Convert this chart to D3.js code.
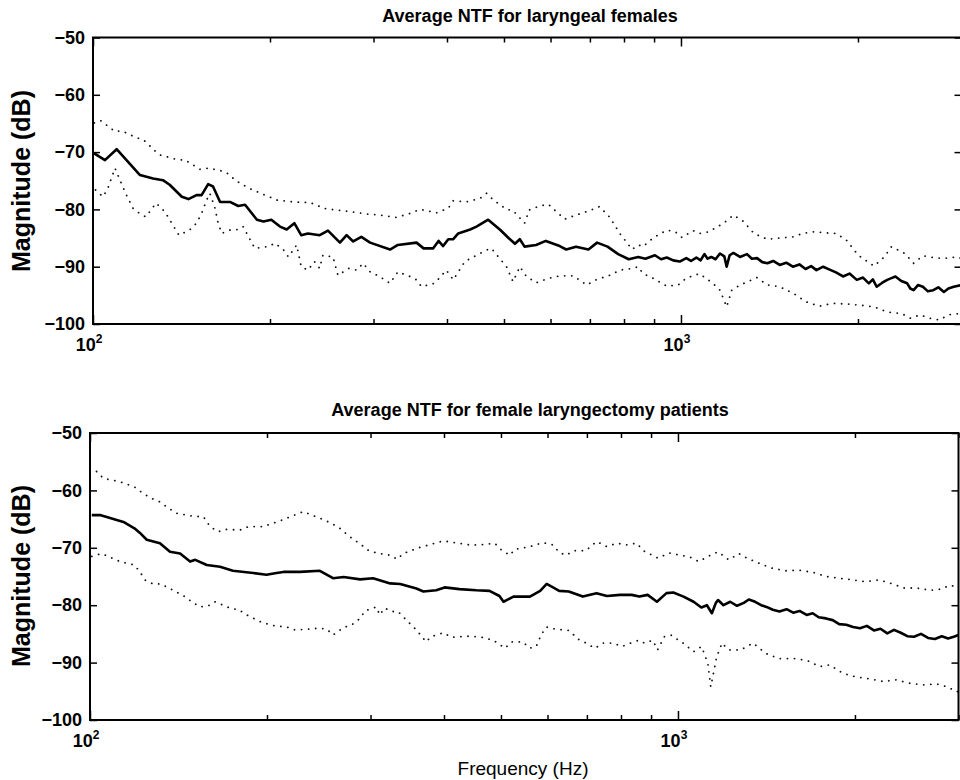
<!DOCTYPE html>
<html>
<head>
<meta charset="utf-8">
<script src="https://cdn.jsdelivr.net/npm/d3@7"></script>
<style>
body { margin: 0; background: #fff; }
text { font-family: "Liberation Sans", Arial, Helvetica, sans-serif; }
</style>
</head>
<body>
<svg id="chart" width="960" height="780"></svg>
<script>
// values: [frequency Hz, magnitude dB]

var titles = ["Average NTF for laryngeal females", "Average NTF for female laryngectomy patients"];
var yTicks = [-100, -90, -80, -70, -60, -50];
var xMajor = [100, 1000];
var xMinor = [200, 300, 400, 500, 600, 700, 800, 900, 2000, 3000];

var topMean = [[100,-70.1],[104.8,-71.4],[109.7,-69.5],[120.2,-74.0],[126.5,-74.6],[131.5,-74.9],[135,-75.7],
  [141.6,-77.8],[145.3,-78.2],[150,-77.5],[153,-77.5],[157,-75.6],[160,-76.0],[164.5,-78.7],[171,-78.7],
  [176.6,-79.4],[181.4,-79.2],[190,-81.8],[195,-82.1],[201,-81.8],[208,-83.0],[213.5,-83.5],[220,-82.4],
  [226,-84.5],[232,-84.2],[243,-84.5],[251,-83.7],[263,-85.8],[270,-84.5],[277,-85.6],[286,-84.8],[296,-85.8],
  [320,-87.0],[330,-86.2],[355,-85.8],[365,-86.8],[379,-86.8],[387,-85.5],[394,-86.4],[402,-85.2],[410,-85.2],
  [418,-84.2],[438,-83.5],[449,-83.0],[470,-81.8],[493,-83.6],[509,-85.0],[522,-86.0],[532,-85.2],[542,-86.5],
  [567,-86.2],[589,-85.5],[622,-86.4],[638,-87.0],[663,-86.5],[696,-87.0],[720,-85.8],[750,-86.5],[782,-87.8],
  [815,-88.7],[846,-88.3],[870,-88.6],[903,-88.0],[925,-88.7],[946,-88.4],[970,-88.9],[995,-89.1],[1021,-88.5],
  [1040,-89.0],[1062,-88.4],[1080,-88.9],[1096,-87.8],[1110,-88.6],[1126,-88.3],[1145,-88.7],[1165,-87.7],
  [1185,-88.2],[1196,-90.0],[1210,-88.0],[1228,-87.6],[1260,-88.3],[1295,-87.8],[1320,-88.6],[1347,-88.5],
  [1375,-89.2],[1403,-89.4],[1435,-89.0],[1472,-89.7],[1510,-89.3],[1550,-90.0],[1590,-89.6],[1629,-90.4],
  [1665,-89.9],[1700,-90.6],[1745,-90.0],[1790,-90.5],[1835,-91.0],[1886,-91.7],[1935,-91.2],[1991,-92.3],
  [2040,-91.9],[2087,-92.9],[2120,-92.2],[2152,-93.5],[2200,-92.8],[2243,-92.3],[2280,-92.0],[2316,-91.7],
  [2370,-92.5],[2425,-92.9],[2455,-93.8],[2487,-94.1],[2530,-93.2],[2579,-93.5],[2630,-94.3],[2686,-94.1],
  [2740,-93.6],[2800,-94.4],[2850,-93.8],[2910,-93.5],[3000,-93.2]];

var topUpper = [[100.5,-64.9],[103,-64.5],[109,-66.4],[112,-66.3],[118,-67.4],[122,-67.9],[127.5,-69.8],
  [130,-70.5],[139,-71.3],[143.5,-71.4],[152,-73.0],[157,-72.8],[164.5,-73.2],[170,-73.8],[174.5,-74.9],
  [184,-76.3],[195,-77.4],[206,-78.4],[219,-78.7],[234,-78.8],[243,-79.5],[246,-79.8],[259,-80.1],[274,-80.4],
  [292,-80.8],[307,-81.0],[328,-81.4],[346,-80.7],[360,-80.0],[384,-80.6],[402,-79.8],[410,-78.5],[431,-78.7],
  [455,-78.1],[467,-77.2],[479,-78.3],[505,-80.0],[518,-80.2],[542,-82.4],[552,-80.1],[575,-79.4],[595,-79.1],
  [614,-80.4],[634,-81.7],[663,-81.0],[700,-80.2],[727,-79.5],[757,-81.4],[787,-84.2],[826,-87.0],[846,-86.2],
  [862,-86.5],[896,-85.0],[946,-83.6],[978,-83.9],[1004,-84.9],[1049,-83.7],[1075,-84.2],[1116,-83.9],
  [1182,-82.4],[1228,-81.0],[1277,-82.1],[1331,-84.2],[1402,-85.2],[1472,-85.0],[1550,-84.8],[1610,-84.2],
  [1673,-83.9],[1764,-84.1],[1835,-84.2],[1909,-85.3],[2003,-88.0],[2129,-89.9],[2217,-88.3],[2281,-86.5],
  [2403,-87.7],[2487,-89.4],[2579,-88.1],[2720,-88.5],[2825,-88.5],[2956,-88.3],[3000,-88.6]];

var topLower = [[101,-76.6],[104,-77.8],[106,-76.3],[109,-72.8],[112,-75.7],[114,-77.5],[117,-79.8],[120,-80.7],
  [123,-81.3],[128,-78.9],[132.5,-80.4],[135,-81.8],[140,-84.5],[146,-83.6],[150,-82.4],[153,-80.7],[156,-78.4],
  [158,-77.2],[161,-79.5],[163,-82.1],[165.5,-84.2],[171,-83.6],[177,-83.5],[180,-83.0],[188.5,-86.8],
  [198.5,-86.5],[204,-85.9],[211,-87.1],[215,-88.3],[222,-86.2],[226,-90.0],[232,-90.6],[238,-89.1],[243,-90.3],
  [246,-88.0],[256,-88.3],[261,-91.5],[272,-90.3],[281,-90.6],[288,-89.4],[296,-90.9],[307,-91.7],[320,-92.9],
  [330,-90.9],[346,-91.7],[355,-92.3],[362,-93.5],[381,-92.9],[399,-90.6],[410,-92.3],[429,-89.1],[449,-88.0],
  [467,-87.1],[476,-86.8],[505,-90.0],[518,-92.6],[532,-90.0],[546,-91.7],[567,-92.8],[597,-92.0],[622,-91.6],
  [656,-91.6],[691,-93.2],[720,-92.2],[757,-91.5],[787,-90.6],[826,-90.3],[846,-90.0],[862,-91.2],[896,-92.0],
  [946,-93.4],[989,-93.2],[1021,-92.0],[1075,-91.2],[1133,-92.9],[1165,-94.1],[1196,-97.0],[1220,-94.1],
  [1260,-93.2],[1347,-91.9],[1403,-93.2],[1472,-93.5],[1550,-94.6],[1629,-96.1],[1720,-96.9],[1810,-96.4],
  [1909,-96.5],[2010,-96.7],[2129,-97.0],[2243,-97.9],[2375,-98.2],[2458,-99.0],[2550,-98.4],[2650,-99.0],
  [2750,-99.3],[2855,-98.4],[2965,-98.2],[3000,-98.6]];

var botMean = [[100.7,-64.3],[104,-64.3],[109.6,-65.0],[114,-65.5],[119,-66.6],[121.6,-67.4],[124.9,-68.6],
  [131.5,-69.2],[136.8,-70.7],[142.3,-71.0],[148,-72.4],[151,-72.1],[158,-73.0],[166.4,-73.3],[175,-74.0],
  [189.5,-74.4],[199.6,-74.7],[207.6,-74.4],[213.3,-74.2],[227.6,-74.2],[246,-74.0],[259,-75.3],[270,-75.1],
  [288,-75.5],[303,-75.3],[324,-76.2],[337,-76.3],[359,-77.1],[369,-77.6],[388,-77.4],[401,-76.9],[425,-77.2],
  [454,-77.4],[478,-77.5],[497,-78.4],[505,-79.4],[525,-78.5],[560,-78.5],[583,-77.5],[598,-76.3],[613,-76.9],
  [628,-77.5],[652,-77.6],[689,-78.5],[727,-77.9],[757,-78.4],[797,-78.2],[834,-78.2],[860,-78.5],[888,-78.2],
  [921,-79.4],[956,-77.9],[982,-77.8],[1022,-78.5],[1063,-79.4],[1096,-80.4],[1120,-80.0],[1142,-81.4],
  [1160,-79.6],[1170,-79.1],[1195,-80.0],[1227,-79.4],[1260,-80.1],[1294,-79.6],[1320,-79.0],[1353,-79.4],
  [1385,-80.0],[1414,-80.3],[1450,-80.8],[1488,-81.1],[1530,-80.7],[1570,-81.3],[1610,-81.0],[1655,-81.7],
  [1695,-81.4],[1735,-82.1],[1785,-82.3],[1833,-82.6],[1880,-83.3],[1933,-83.4],[1985,-83.8],[2040,-84.0],
  [2095,-83.6],[2154,-84.4],[2210,-84.1],[2270,-84.9],[2330,-84.3],[2393,-84.8],[2455,-85.4],[2520,-85.5],
  [2590,-85.0],[2663,-85.7],[2735,-85.9],[2810,-85.4],[2880,-85.8],[2945,-85.5],[3000,-85.2]];

var botUpper = [[102.6,-56.7],[105.4,-57.9],[108.9,-58.2],[112.5,-58.5],[119,-59.4],[123,-60.5],[127.3,-61.4],
  [131.5,-62.0],[136,-63.1],[140.4,-64.0],[150,-64.5],[156,-64.6],[160,-66.3],[165,-67.2],[170.7,-66.8],
  [180,-66.9],[186,-66.3],[197.2,-66.3],[205,-65.7],[211.8,-65.2],[219,-64.6],[230.5,-63.7],[251,-65.2],
  [259,-65.9],[266,-66.6],[273,-67.6],[280,-68.5],[288,-69.3],[297,-70.4],[307,-70.9],[324,-71.3],[333,-72.0],
  [341,-71.0],[362,-70.0],[386,-69.2],[399,-68.8],[417,-69.1],[442,-69.5],[460,-69.5],[488,-69.2],[501,-70.4],
  [518,-71.3],[527,-70.3],[560,-69.8],[589,-69.1],[613,-69.5],[628,-70.8],[645,-71.3],[666,-70.5],[697,-70.5],
  [727,-68.9],[757,-69.8],[787,-69.2],[817,-69.5],[851,-69.2],[873,-70.5],[925,-71.8],[967,-70.9],[1010,-71.3],
  [1048,-71.6],[1085,-72.4],[1135,-71.3],[1170,-70.7],[1220,-72.1],[1270,-71.0],[1310,-71.8],[1397,-73.0],
  [1452,-73.6],[1525,-74.0],[1606,-73.9],[1700,-74.3],[1785,-75.0],[1880,-75.3],[1985,-75.6],[2085,-75.9],
  [2200,-75.6],[2320,-76.3],[2420,-77.0],[2545,-77.0],[2685,-77.4],[2800,-77.2],[2905,-76.5],[3000,-77.0]];

var botLower = [[100.7,-71.5],[104.7,-71.0],[112.5,-72.4],[119,-73.0],[121.6,-74.2],[124,-75.6],[128,-76.3],
  [132,-76.3],[136.8,-77.1],[145,-78.5],[148.9,-79.4],[153.9,-80.3],[159,-80.1],[163,-79.4],[168.5,-80.0],
  [173,-80.5],[179,-80.8],[184.8,-81.7],[196,-83.0],[208,-83.7],[214.6,-83.7],[223,-84.3],[233,-84.2],[246,-84.0],
  [253,-84.2],[259,-85.2],[270,-83.9],[279,-83.4],[288,-82.3],[293.5,-81.0],[307,-80.3],[311,-81.7],[317,-80.5],
  [326,-81.1],[334,-81.1],[350,-83.2],[359,-84.3],[373,-86.4],[380,-85.5],[399,-84.8],[412,-85.6],[437,-85.4],
  [460,-85.5],[485,-86.1],[508,-87.5],[521,-86.4],[545,-86.4],[559,-87.5],[574,-87.2],[585,-85.2],[597,-83.8],
  [620,-84.2],[653,-84.4],[676,-85.9],[698,-86.6],[722,-87.5],[746,-86.6],[776,-86.6],[803,-87.2],[831,-86.6],
  [858,-86.1],[877,-86.6],[906,-86.1],[923,-87.8],[948,-85.5],[973,-85.2],[1020,-86.6],[1063,-88.1],[1097,-87.2],
  [1124,-90.1],[1137,-94.2],[1164,-89.0],[1188,-86.6],[1220,-87.8],[1278,-87.8],[1342,-86.6],[1410,-88.4],
  [1485,-89.3],[1590,-89.3],[1675,-89.8],[1740,-90.7],[1810,-90.4],[1910,-91.9],[2010,-92.5],[2110,-92.8],
  [2235,-93.3],[2345,-93.0],[2480,-93.6],[2615,-93.9],[2750,-93.7],[2865,-94.2],[2985,-95.1],[3000,-94.8]];

var panels = [
  { title: titles[0], mean: topMean, upper: topUpper, lower: topLower, left: 93, top: 37.5, bottom: 324, titleY: 22, labelY: 181 },
  { title: titles[1], mean: botMean, upper: botUpper, lower: botLower, left: 90, top: 433, bottom: 720, titleY: 416, labelY: 576 }
];

var svg = d3.select("#chart");
var plotW = 868.5;

panels.forEach(function(p, i) {
  var x = d3.scaleLog().domain([100, 3000]).range([p.left, p.left + plotW]);
  var y = d3.scaleLinear().domain([-100, -50]).range([p.bottom, p.top]);
  var right = p.left + plotW;

  var g = svg.append("g");

  g.append("clipPath").attr("id", "clip" + i)
    .append("rect")
    .attr("x", p.left).attr("y", p.top)
    .attr("width", plotW).attr("height", p.bottom - p.top);

  var line = d3.line()
    .x(function(d) { return x(d[0]); })
    .y(function(d) { return y(d[1]); });

  var plot = g.append("g").attr("clip-path", "url(#clip" + i + ")");

  // confidence bounds, dotted
  [p.upper, p.lower].forEach(function(s) {
    plot.append("path")
      .datum(s)
      .attr("d", line)
      .attr("fill", "none")
      .attr("stroke", "#111")
      .attr("stroke-width", 1.8)
      .attr("stroke-linecap", "round")
      .attr("stroke-dasharray", "0.1,7");
  });

  // mean curve
  plot.append("path")
    .datum(p.mean)
    .attr("d", line)
    .attr("fill", "none")
    .attr("stroke", "#000")
    .attr("stroke-width", 2.6)
    .attr("stroke-linejoin", "round");

  // y axes, ticks pointing in
  var yl = g.append("g")
    .attr("transform", "translate(" + p.left + ",0)")
    .call(d3.axisLeft(y).tickValues(yTicks).tickSize(-7).tickSizeOuter(0).tickPadding(8));
  g.append("g")
    .attr("transform", "translate(" + right + ",0)")
    .call(d3.axisRight(y).tickValues(yTicks).tickSize(-7).tickSizeOuter(0).tickFormat(""));

  // x axes, bottom and top
  [[p.bottom, d3.axisBottom], [p.top, d3.axisTop]].forEach(function(a) {
    g.append("g")
      .attr("transform", "translate(0," + a[0] + ")")
      .call(a[1](x).tickValues(xMajor).tickSize(-9).tickSizeOuter(0).tickFormat(""));
    g.append("g")
      .attr("transform", "translate(0," + a[0] + ")")
      .call(a[1](x).tickValues(xMinor).tickSize(-5).tickSizeOuter(0).tickFormat(""));
  });

  g.selectAll(".domain").remove();
  g.selectAll(".tick line").attr("stroke", "#000").attr("stroke-width", 1.5);

  yl.selectAll("text")
    .attr("font-size", 18)
    .attr("font-weight", "bold")
    .attr("fill", "#000");

  // frame
  g.append("rect")
    .attr("x", p.left).attr("y", p.top)
    .attr("width", plotW).attr("height", p.bottom - p.top)
    .attr("fill", "none")
    .attr("stroke", "#000")
    .attr("stroke-width", 2);

  // decade labels 10^2, 10^3
  xMajor.forEach(function(v) {
    var t = g.append("text")
      .attr("x", x(v) - 4)
      .attr("y", p.bottom + 27)
      .attr("text-anchor", "middle")
      .attr("font-size", 18)
      .attr("font-weight", "bold");
    t.append("tspan").text("10");
    t.append("tspan")
      .attr("dy", -8)
      .attr("font-size", 12)
      .text(String(Math.round(Math.log10(v))));
  });

  g.append("text")
    .attr("x", 530)
    .attr("y", p.titleY)
    .attr("text-anchor", "middle")
    .attr("font-size", 18)
    .attr("font-weight", "bold")
    .text(p.title);

  g.append("text")
    .attr("transform", "translate(30," + p.labelY + ") rotate(-90)")
    .attr("text-anchor", "middle")
    .attr("font-size", 25)
    .attr("font-weight", "bold")
    .text("Magnitude (dB)");
});

svg.append("text")
  .attr("x", 523)
  .attr("y", 775)
  .attr("text-anchor", "middle")
  .attr("font-size", 19)
  .text("Frequency (Hz)");
</script>
</body>
</html>
